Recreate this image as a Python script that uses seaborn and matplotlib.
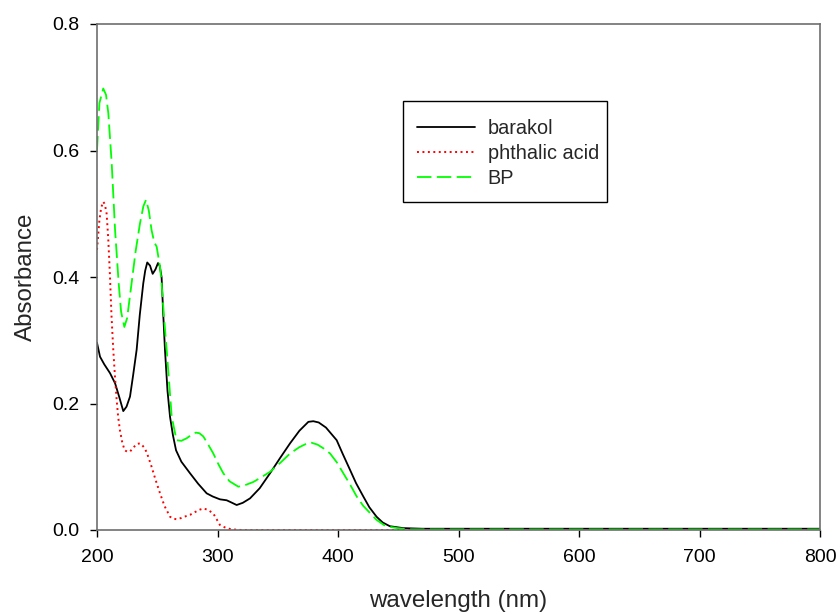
import matplotlib
matplotlib.use("Agg")
import matplotlib.pyplot as plt
from matplotlib.patches import Rectangle
import seaborn as sns
import pandas as pd

# ---- data ----
barakol_x = [200, 202.5, 206, 210.8, 215, 218.5, 221.8, 224.5, 227.4, 230, 232.9, 235.5, 238.4, 240,
             241.7, 244, 246.2, 248.5, 250.6, 252, 253.6, 255, 256.4, 258.5, 260.6, 263, 265.6, 270,
             277.2, 284, 291, 296, 302, 307.6, 311, 315.9, 321, 327, 335, 343.6, 352, 360.2, 368,
             375.4, 379.5, 384, 390, 398.9, 404, 410, 415, 421, 426, 432, 437, 443, 454, 470, 500,
             550, 600, 650, 700, 750, 800]
barakol_y = [0.296, 0.274, 0.262, 0.248, 0.232, 0.21, 0.188, 0.195, 0.211, 0.245, 0.285, 0.34, 0.39, 0.41,
             0.423, 0.418, 0.405, 0.412, 0.422, 0.418, 0.40, 0.34, 0.285, 0.22, 0.179, 0.15, 0.126, 0.108,
             0.0897, 0.073, 0.058, 0.053, 0.0485, 0.047, 0.044, 0.0395, 0.043, 0.05, 0.066, 0.0897, 0.114,
             0.137, 0.157, 0.171, 0.172, 0.170, 0.162, 0.142, 0.12, 0.095, 0.074, 0.053, 0.036, 0.021,
             0.012, 0.006, 0.003, 0.002, 0.002, 0.002, 0.002, 0.002, 0.002, 0.002, 0.002]

phthalic_x = [200, 202, 203.5, 205.2, 206.5, 208, 209.4, 210.8, 212, 213.5, 215, 216.3, 217.5, 219, 221,
              223, 225, 227.4, 230, 233, 235.7, 237.5, 239.8, 242.5, 245.3, 248.5, 252.3, 256, 260.6, 263,
              266.1, 270, 274, 277.2, 282, 285, 288.2, 292, 296.5, 299, 302, 305, 307.6, 312, 320, 350,
              400, 500, 600, 700, 800]
phthalic_y = [0.443, 0.49, 0.51, 0.519, 0.515, 0.50, 0.458, 0.40, 0.34, 0.285, 0.24, 0.206, 0.18, 0.158,
              0.138, 0.126, 0.124, 0.124, 0.13, 0.136, 0.137, 0.134, 0.129, 0.116, 0.10, 0.08, 0.058,
              0.038, 0.021, 0.018, 0.017, 0.019, 0.022, 0.024, 0.029, 0.032, 0.034, 0.032, 0.026, 0.018,
              0.008, 0.005, 0.003, 0.001, 0.0, 0.0, 0.0, 0.0, 0.0, 0.0, 0.0]

bp_x = [200, 202, 205.2, 207.5, 209.4, 212.2, 215, 218, 220, 222.7, 225, 228.7, 232, 235.7, 238.5, 240.7,
        243, 245.3, 247.5, 249.5, 252.3, 253.6, 255.5, 257.8, 260, 262, 266, 270, 274.4, 278, 282, 285,
        288.2, 292, 296.5, 300.5, 304.8, 310, 317.3, 323, 329.8, 336, 343.6, 352, 360.2, 368, 375.4, 378,
        383, 388, 393.4, 399, 404.4, 410, 415.5, 421, 427, 432, 438, 443, 449, 460, 500, 550, 600, 650,
        700, 750, 800]
bp_y = [0.60, 0.675, 0.698, 0.688, 0.659, 0.58, 0.474, 0.39, 0.345, 0.321, 0.335, 0.39, 0.44, 0.485,
        0.512, 0.522, 0.505, 0.474, 0.455, 0.448, 0.416, 0.39, 0.34, 0.285, 0.23, 0.179, 0.142, 0.141,
        0.145, 0.150, 0.154, 0.153, 0.148, 0.136, 0.121, 0.105, 0.0897, 0.077, 0.0685, 0.071, 0.076,
        0.083, 0.092, 0.106, 0.121, 0.131, 0.138, 0.138, 0.135, 0.129, 0.121, 0.107, 0.0897, 0.072,
        0.053, 0.038, 0.026, 0.016, 0.008, 0.005, 0.003, 0.001, 0.001, 0.001, 0.001, 0.001, 0.001,
        0.001, 0.001]

x_ticks = [200, 300, 400, 500, 600, 700, 800]
y_ticks = [0.0, 0.2, 0.4, 0.6, 0.8]
y_tick_labels = ["0.0", "0.2", "0.4", "0.6", "0.8"]

# ---- style ----
sns.set_style("ticks")
plt.rcParams["font.family"] = ["Liberation Sans", "DejaVu Sans"]

fig = plt.figure(figsize=(8.4, 6.14), dpi=100)
ax = fig.add_axes([97 / 840, 84 / 614, 723 / 840, 506 / 614])

sns.lineplot(x=barakol_x, y=barakol_y, ax=ax, color="black", lw=1.3, sort=False,
             label="barakol")
sns.lineplot(x=phthalic_x, y=phthalic_y, ax=ax, color="#ff0000", lw=1.4, sort=False,
             label="phthalic acid", linestyle=(0, (1, 1.8)))
sns.lineplot(x=bp_x, y=bp_y, ax=ax, color="#00ff00", lw=1.3, sort=False,
             label="BP", linestyle=(0, (8, 3)))

ax.set_xlim(200, 800)
ax.set_ylim(0, 0.8)
ax.set_xticks(x_ticks)
ax.set_yticks(y_ticks)
ax.set_yticklabels(y_tick_labels)
ax.tick_params(direction="out", length=5, width=1, colors="black", labelsize=14)
ax.tick_params(axis="x", pad=9)
ax.tick_params(axis="y", pad=7.5)

for sp in ax.spines.values():
    sp.set_visible(True)
    sp.set_color("#6e6e6e")
    sp.set_linewidth(1.2)

ax.set_xlabel("wavelength (nm)", fontsize=17.4, labelpad=17)
ax.set_ylabel("Absorbance", fontsize=17.4, labelpad=11)

# legend box (frame drawn separately to match the reference's asymmetric padding)
box = Rectangle((0.4232, 0.6482), 0.2822, 0.1996, transform=ax.transAxes,
                facecolor="white", edgecolor="black", linewidth=1.0, zorder=4)
ax.add_patch(box)
leg = ax.legend(loc="center left", bbox_to_anchor=(0.4426, 0.744), borderaxespad=0,
                fontsize=14.3, frameon=False, borderpad=0,
                handlelength=2.9, handletextpad=0.65, labelspacing=0.3)
leg.set_zorder(5)

fig.savefig("out.png", dpi=100)
